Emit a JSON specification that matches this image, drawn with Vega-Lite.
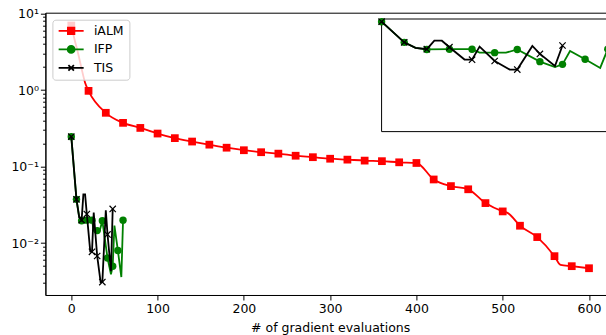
{
  "$schema": "https://vega.github.io/schema/vega-lite/v6.json",
  "width": 569.5,
  "height": 282.3,
  "autosize": {"type": "none"},
  "padding": {"left": 45.4, "top": 12.7, "right": 0, "bottom": 40},
  "background": "white",
  "config": {
    "font": "DejaVu Sans",
    "view": {"stroke": "black", "strokeWidth": 1},
    "axis": {"grid": false, "domainColor": "black", "tickColor": "black", "labelColor": "black", "titleColor": "black", "labelFont": "DejaVu Sans", "titleFont": "DejaVu Sans", "labelFontSize": 12.5, "titleFontSize": 12.5, "titleFontWeight": "normal", "domainWidth": 1, "tickWidth": 1},
    "legend": {"orient": "top-left", "offset": 7, "padding": 5, "rowPadding": 3.5, "fillColor": "rgba(255,255,255,0.8)", "strokeColor": "#cccccc", "strokeWidth": 1, "cornerRadius": 3, "labelFont": "DejaVu Sans", "labelFontSize": 12.5, "labelColor": "black", "labelOffset": 24, "symbolSize": 100, "symbolStrokeWidth": 1.8}
  },
  "datasets": {
    "d": [
      {"s": "iALM", "x": 0, "y": 7.0},
      {"s": "iALM", "x": 4, "y": 4.5},
      {"s": "iALM", "x": 8, "y": 3.0},
      {"s": "iALM", "x": 12, "y": 1.9},
      {"s": "iALM", "x": 16, "y": 1.25},
      {"s": "iALM", "x": 20, "y": 0.98},
      {"s": "iALM", "x": 40, "y": 0.506},
      {"s": "iALM", "x": 60, "y": 0.374},
      {"s": "iALM", "x": 80, "y": 0.321},
      {"s": "iALM", "x": 100, "y": 0.271},
      {"s": "iALM", "x": 120, "y": 0.236},
      {"s": "iALM", "x": 140, "y": 0.213},
      {"s": "iALM", "x": 160, "y": 0.194},
      {"s": "iALM", "x": 180, "y": 0.177},
      {"s": "iALM", "x": 200, "y": 0.164},
      {"s": "iALM", "x": 220, "y": 0.1545},
      {"s": "iALM", "x": 240, "y": 0.148},
      {"s": "iALM", "x": 260, "y": 0.139},
      {"s": "iALM", "x": 280, "y": 0.133},
      {"s": "iALM", "x": 300, "y": 0.127},
      {"s": "iALM", "x": 320, "y": 0.1236},
      {"s": "iALM", "x": 340, "y": 0.120},
      {"s": "iALM", "x": 360, "y": 0.118},
      {"s": "iALM", "x": 380, "y": 0.114},
      {"s": "iALM", "x": 400, "y": 0.1117},
      {"s": "iALM", "x": 420, "y": 0.068},
      {"s": "iALM", "x": 440, "y": 0.0557},
      {"s": "iALM", "x": 460, "y": 0.0506},
      {"s": "iALM", "x": 480, "y": 0.0334},
      {"s": "iALM", "x": 500, "y": 0.026},
      {"s": "iALM", "x": 506, "y": 0.0247},
      {"s": "iALM", "x": 520, "y": 0.0169},
      {"s": "iALM", "x": 540, "y": 0.012},
      {"s": "iALM", "x": 560, "y": 0.00676},
      {"s": "iALM", "x": 567, "y": 0.0052},
      {"s": "iALM", "x": 580, "y": 0.0050},
      {"s": "iALM", "x": 600, "y": 0.0047},
      {"s": "IFP", "x": 0, "y": 0.247},
      {"s": "IFP", "x": 6, "y": 0.0374},
      {"s": "IFP", "x": 9, "y": 0.0225},
      {"s": "IFP", "x": 12, "y": 0.0196},
      {"s": "IFP", "x": 18, "y": 0.0200},
      {"s": "IFP", "x": 24, "y": 0.0200},
      {"s": "IFP", "x": 26, "y": 0.0146},
      {"s": "IFP", "x": 30, "y": 0.0146},
      {"s": "IFP", "x": 33, "y": 0.0146},
      {"s": "IFP", "x": 36, "y": 0.0196},
      {"s": "IFP", "x": 42, "y": 0.0064},
      {"s": "IFP", "x": 46, "y": 0.0039},
      {"s": "IFP", "x": 48, "y": 0.0050},
      {"s": "IFP", "x": 50, "y": 0.0170},
      {"s": "IFP", "x": 54, "y": 0.0080},
      {"s": "IFP", "x": 58, "y": 0.0036},
      {"s": "IFP", "x": 60, "y": 0.0200},
      {"s": "TIS", "x": 0, "y": 0.247},
      {"s": "TIS", "x": 6, "y": 0.0374},
      {"s": "TIS", "x": 9, "y": 0.0225},
      {"s": "TIS", "x": 12, "y": 0.0200},
      {"s": "TIS", "x": 14, "y": 0.0435},
      {"s": "TIS", "x": 16, "y": 0.0435},
      {"s": "TIS", "x": 18, "y": 0.0240},
      {"s": "TIS", "x": 22, "y": 0.0078},
      {"s": "TIS", "x": 24, "y": 0.0077},
      {"s": "TIS", "x": 26, "y": 0.0252},
      {"s": "TIS", "x": 30, "y": 0.0068},
      {"s": "TIS", "x": 34, "y": 0.0031},
      {"s": "TIS", "x": 36, "y": 0.0031},
      {"s": "TIS", "x": 40, "y": 0.0268},
      {"s": "TIS", "x": 42, "y": 0.0130},
      {"s": "TIS", "x": 46, "y": 0.0043},
      {"s": "TIS", "x": 48, "y": 0.0280}
    ],
    "box": [{"x0": 0, "x1": 70, "y0": 0.0000107, "y1": 0.316}]
  },
  "data": {"name": "d"},
  "layer": [
    {
      "encoding": {
        "x": {"field": "x", "type": "quantitative", "scale": {"domain": [-30, 630], "nice": false, "zero": false},
          "axis": {"values": [0, 100, 200, 300, 400, 500, 600], "tickSize": 5, "labelPadding": 3, "labelFlush": false, "labelOverlap": false, "title": "# of gradient evaluations", "titlePadding": 6}},
        "y": {"field": "y", "type": "quantitative", "scale": {"type": "log", "domain": [0.0021, 10.3], "nice": false},
          "axis": {"values": [0.003, 0.004, 0.005, 0.006, 0.007, 0.008, 0.009, 0.01, 0.02, 0.03, 0.04, 0.05, 0.06, 0.07, 0.08, 0.09, 0.1, 0.2, 0.3, 0.4, 0.5, 0.6, 0.7, 0.8, 0.9, 1, 2, 3, 4, 5, 6, 7, 8, 9, 10],
            "labelExpr": "datum.value == 10 ? '10¹' : datum.value == 1 ? '10⁰' : datum.value == 0.1 ? '10⁻¹' : datum.value == 0.01 ? '10⁻²' : ''",
            "tickSize": {"condition": {"test": "datum.value == 0.01 || datum.value == 0.1 || datum.value == 1 || datum.value == 10", "value": 5}, "value": 2.8},
            "labelPadding": 2, "labelOverlap": false, "title": null}}
      },
      "layer": [
        {"transform": [{"filter": "datum.s == 'iALM'"}], "mark": {"type": "line", "color": "#ff0000", "strokeWidth": 1.8, "interpolate": "monotone"}},
        {"transform": [{"filter": "datum.s == 'iALM' && datum.x % 20 == 0"}], "mark": {"type": "point", "shape": "square", "filled": true, "color": "#ff0000", "size": 60, "opacity": 1}},
        {"transform": [{"filter": "datum.s == 'IFP'"}], "mark": {"type": "line", "color": "#008000", "strokeWidth": 1.8}},
        {"transform": [{"filter": "datum.s == 'IFP' && datum.x % 6 == 0"}], "mark": {"type": "point", "shape": "circle", "filled": true, "color": "#008000", "size": 55, "opacity": 1}},
        {"transform": [{"filter": "datum.s == 'TIS'"}], "mark": {"type": "line", "color": "#000000", "strokeWidth": 1.8}},
        {"transform": [{"filter": "datum.s == 'TIS' && datum.x % 6 == 0"}], "mark": {"type": "point", "shape": "M-1,-1L1,1M-1,1L1,-1", "filled": false, "color": "#000000", "size": 40, "strokeWidth": 1.2, "opacity": 1}},
        {"transform": [{"filter": "datum.x == 0"}], "mark": {"type": "point", "filled": true, "opacity": 0},
          "encoding": {
            "color": {"field": "s", "type": "nominal", "scale": {"domain": ["iALM", "IFP", "TIS"], "range": ["#ff0000", "#008000", "#000000"]},
              "legend": {"title": null, "encode": {"symbols": {"update": {"fill": {"scale": "color", "field": "value"}, "stroke": {"scale": "color", "field": "value"}, "opacity": {"value": 1}, "strokeWidth": {"value": 1.8}}}}}},
            "shape": {"field": "s", "type": "nominal", "scale": {"domain": ["iALM", "IFP", "TIS"], "range": ["M-1,0H4M0.85,-0.65H2.15V0.65H0.85Z", "M-1,0H4M2.2,0A0.7,0.7,0,1,1,0.8,0A0.7,0.7,0,1,1,2.2,0Z", "M-1,0H4M0.95,-0.55L2.05,0.55M0.95,0.55L2.05,-0.55"]},
              "legend": {"title": null}}
          }}
      ]
    },
    {
      "encoding": {
        "x": {"field": "x", "type": "quantitative", "scale": {"domain": [-89.2, 61.9], "nice": false, "zero": false}, "axis": null},
        "y": {"field": "y", "type": "quantitative", "scale": {"type": "log", "domain": [3.5e-12, 0.562], "nice": false}, "axis": null}
      },
      "layer": [
        {"data": {"name": "box"}, "mark": {"type": "rect", "fill": "white", "stroke": "black", "strokeWidth": 1},
          "encoding": {
            "x": {"field": "x0", "type": "quantitative", "scale": {"domain": [-89.2, 61.9], "nice": false, "zero": false}, "axis": null},
            "x2": {"field": "x1"},
            "y": {"field": "y0", "type": "quantitative", "scale": {"type": "log", "domain": [3.5e-12, 0.562], "nice": false}, "axis": null},
            "y2": {"field": "y1"}
          }},
        {"transform": [{"filter": "datum.s == 'IFP'"}], "mark": {"type": "line", "color": "#008000", "strokeWidth": 1.8}},
        {"transform": [{"filter": "datum.s == 'IFP' && datum.x % 6 == 0"}], "mark": {"type": "point", "shape": "circle", "filled": true, "color": "#008000", "size": 55, "opacity": 1}},
        {"transform": [{"filter": "datum.s == 'TIS'"}], "mark": {"type": "line", "color": "#000000", "strokeWidth": 1.8}},
        {"transform": [{"filter": "datum.s == 'TIS' && datum.x % 6 == 0"}], "mark": {"type": "point", "shape": "M-1,-1L1,1M-1,1L1,-1", "filled": false, "color": "#000000", "size": 40, "strokeWidth": 1.2, "opacity": 1}}
      ]
    }
  ],
  "resolve": {"scale": {"x": "independent", "y": "independent"}}
}
